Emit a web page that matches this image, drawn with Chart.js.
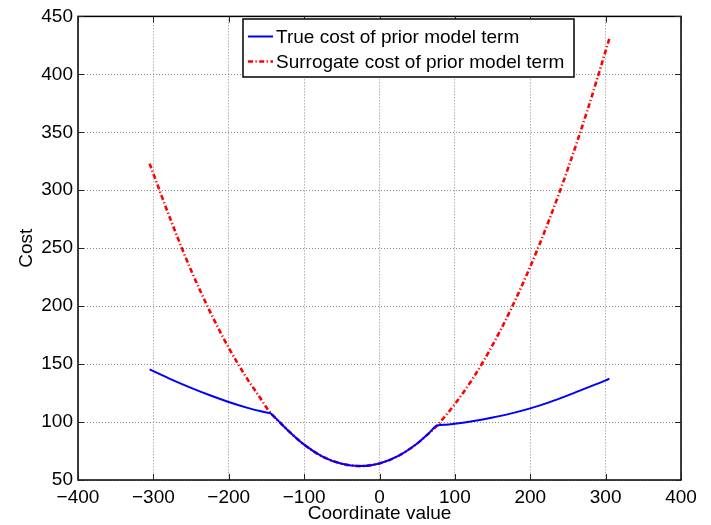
<!DOCTYPE html>
<html>
<head>
<meta charset="utf-8">
<script src="https://cdn.jsdelivr.net/npm/chart.js@4.4.1/dist/chart.umd.min.js"></script>
<style>
  html, body { margin: 0; padding: 0; background: #fff; }
  canvas { display: block; }
</style>
</head>
<body>
<canvas id="costChart" width="711" height="525"></canvas>
<script>
// values
const xVals = [-305, -275, -250, -225, -200, -175, -160, -150, -144, -135, -125, -100, -75, -50, -26, 0, 25, 50, 65, 76.5, 88, 100, 125, 150, 175, 200, 225, 250, 275, 300, 305];
const trueCost = [145.4, 136.4, 129.5, 123.1, 117.3, 112.2, 109.7, 108.2, 107.3, 101.5, 95, 80.5, 70, 64, 62, 64.3, 70.8, 81.5, 90, 97, 97.7, 98.6, 101, 104, 107.5, 111.8, 117, 123, 129.5, 136, 137.4];
const surrogateCost = [323, 271, 231, 195.5, 164, 136.8, 122.5, 112.5, 107.3, 101.5, 95, 80.5, 70, 64, 62, 64.3, 70.8, 81.5, 90, 97, 105.8, 115.5, 138.8, 166.4, 198.2, 234.1, 274.3, 318.7, 367.3, 420.2, 431];
const seriesNames = ['True cost of prior model term', 'Surrogate cost of prior model term'];
const xTicks = { min: -400, max: 400, step: 100 };
const yTicks = { min: 50, max: 450, step: 50 };

const FONT = '"Liberation Sans", Arial, Helvetica, sans-serif';
Chart.defaults.font.family = FONT;
Chart.defaults.font.size = 19;
Chart.defaults.color = '#000';

const toPoints = (xs, ys) => xs.map((x, i) => ({ x: x, y: ys[i] }));
const minusSign = (v) => String(v).replace('-', '\u2212');

// MATLAB style box, inward ticks and legend
const matlabFrame = {
    id: 'matlabFrame',
    afterDraw(chart) {
        const ctx = chart.ctx;
        const a = chart.chartArea;
        const xs = chart.scales.x, ys = chart.scales.y;
        ctx.save();
        ctx.strokeStyle = '#000';
        ctx.lineWidth = 1.5;
        ctx.strokeRect(a.left, a.top, a.right - a.left, a.bottom - a.top);

        const tl = 6;
        ctx.lineWidth = 1;
        ctx.strokeStyle = '#222';
        ctx.beginPath();
        xs.ticks.forEach(t => {
            const px = Math.round(xs.getPixelForValue(t.value)) + 0.5;
            ctx.moveTo(px, a.bottom); ctx.lineTo(px, a.bottom - tl);
            ctx.moveTo(px, a.top); ctx.lineTo(px, a.top + tl);
        });
        ys.ticks.forEach(t => {
            const py = Math.round(ys.getPixelForValue(t.value)) + 0.5;
            ctx.moveTo(a.left, py); ctx.lineTo(a.left + tl, py);
            ctx.moveTo(a.right, py); ctx.lineTo(a.right - tl, py);
        });
        ctx.stroke();

        // legend box
        const lx = 243, ly = 19, lw = 331, lh = 58;
        ctx.fillStyle = '#fff';
        ctx.fillRect(lx, ly, lw, lh);
        ctx.strokeStyle = '#000';
        ctx.lineWidth = 1.5;
        ctx.strokeRect(lx, ly, lw, lh);
        ctx.font = '19px ' + FONT;
        ctx.textBaseline = 'middle';
        ctx.textAlign = 'left';
        chart.data.datasets.forEach((ds, i) => {
            const cy = ly + 17.5 + i * 25;
            ctx.beginPath();
            ctx.strokeStyle = ds.borderColor;
            ctx.lineWidth = ds.borderWidth;
            ctx.setLineDash(ds.borderDash || []);
            ctx.moveTo(lx + 5, cy);
            ctx.lineTo(lx + 30, cy);
            ctx.stroke();
            ctx.setLineDash([]);
            ctx.fillStyle = '#000';
            ctx.fillText(ds.label, lx + 33, cy + 1);
        });
        ctx.restore();
    }
};

new Chart(document.getElementById('costChart'), {
    type: 'line',
    data: {
        datasets: [
            {
                label: seriesNames[0],
                data: toPoints(xVals, trueCost),
                borderColor: '#0000ff',
                borderWidth: 2,
                pointRadius: 0,
                cubicInterpolationMode: 'monotone',
                fill: false
            },
            {
                label: seriesNames[1],
                data: toPoints(xVals, surrogateCost),
                borderColor: '#ff0000',
                borderWidth: 2.6,
                borderDash: [5, 2.5, 1.2, 2.5],
                pointRadius: 0,
                cubicInterpolationMode: 'monotone',
                fill: false
            }
        ]
    },
    options: {
        responsive: false,
        animation: false,
        devicePixelRatio: 1,
        layout: { padding: { top: 14, right: 30, left: 0, bottom: 0 } },
        plugins: {
            legend: { display: false },
            tooltip: { enabled: false }
        },
        scales: {
            x: {
                type: 'linear',
                min: xTicks.min,
                max: xTicks.max,
                border: { display: false, dash: [1, 2] },
                grid: { color: '#8a8a8a', lineWidth: 1, drawTicks: false },
                ticks: { stepSize: xTicks.step, padding: 6, maxRotation: 0, callback: minusSign },
                title: { display: true, text: 'Coordinate value', padding: { top: 0, bottom: 0 } },
                afterFit: (s) => { s.height = 45; }
            },
            y: {
                min: yTicks.min,
                max: yTicks.max,
                border: { display: false, dash: [1, 2] },
                grid: { color: '#8a8a8a', lineWidth: 1, drawTicks: false },
                ticks: { stepSize: yTicks.step, padding: 5, callback: minusSign },
                title: { display: true, text: 'Cost', padding: { top: 15, bottom: 0 } },
                afterFit: (s) => { s.width = 78; }
            }
        }
    },
    plugins: [matlabFrame]
});
</script>
</body>
</html>
